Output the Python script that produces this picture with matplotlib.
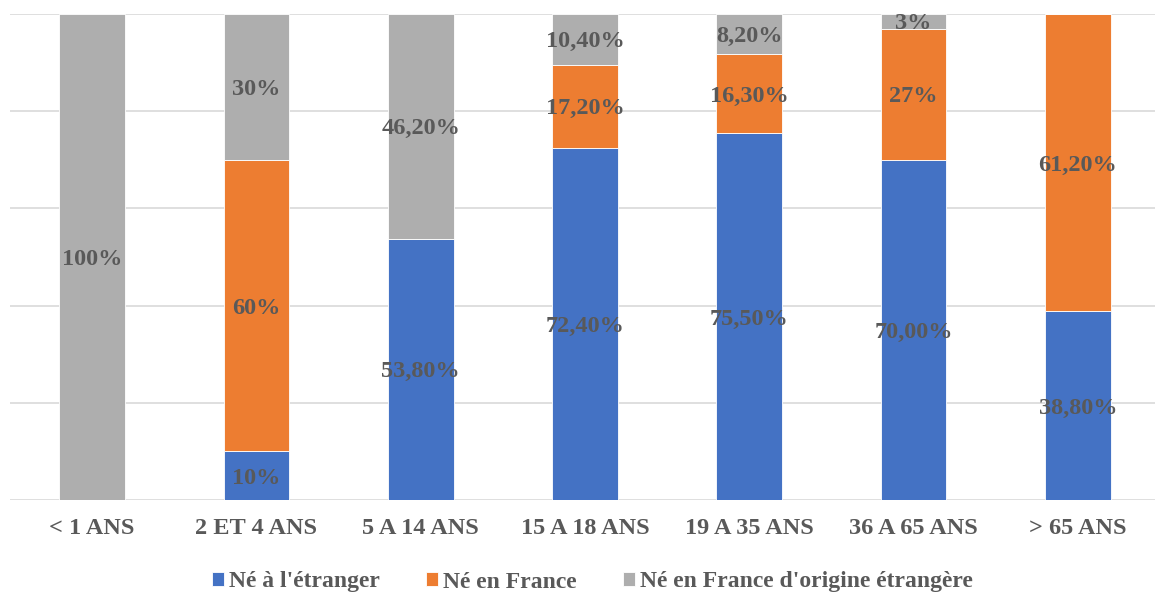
import matplotlib
matplotlib.use("Agg")
import matplotlib.pyplot as plt
import numpy as np

categories = ["< 1 ANS", "2 ET 4 ANS", "5 A 14 ANS", "15 A 18 ANS",
              "19 A 35 ANS", "36 A 65 ANS", "> 65 ANS"]
series_names = ["Né à l'étranger", "Né en France", "Né en France d'origine étrangère"]
ne_etranger = [0, 10, 53.8, 72.4, 75.5, 70.0, 38.8]
ne_france = [0, 60, 0, 17.2, 16.3, 27, 61.2]
ne_origine = [100, 30, 46.2, 10.4, 8.2, 3, 0]
value_labels = [
    ["", "10%", "53,80%", "72,40%", "75,50%", "70,00%", "38,80%"],
    ["", "60%", "", "17,20%", "16,30%", "27%", "61,20%"],
    ["100%", "30%", "46,20%", "10,40%", "8,20%", "3%", ""],
]
colors = ["#4472C4", "#ED7D31", "#AEAEAE"]
text_color = "#595959"
serif = ["Liberation Serif", "DejaVu Serif"]

plt.rcParams["font.family"] = serif
plt.rcParams["font.weight"] = "bold"

fig = plt.figure(figsize=(11.55, 5.93), dpi=100)
ax = fig.add_axes([10 / 1155, 93 / 593, 1 - 10 / 1155, 486 / 593])

x = np.arange(len(categories))
bottom = np.zeros(len(categories))
width = 0.4
for vals, labs, col, name in zip([ne_etranger, ne_france, ne_origine],
                                 value_labels, colors, series_names):
    vals = np.array(vals, dtype=float)
    ax.bar(x, vals, width, bottom=bottom, color=col, label=name,
           edgecolor="white", linewidth=0.6, zorder=3)
    for xi, v, b, lab in zip(x, vals, bottom, labs):
        if lab:
            ax.text(xi, b + v / 2, lab, ha="center", va="center_baseline",
                    fontsize=17.5, fontweight="bold", color=text_color,
                    family=serif, zorder=4)
    bottom += vals

ax.set_xlim(-0.5, 6.47)
ax.set_ylim(0, 100)
ax.set_yticks(np.arange(0, 101, 20))
ax.yaxis.grid(True, color="#D9D9D9", linewidth=1.2, zorder=0)
ax.set_yticklabels([])
ax.tick_params(axis="y", length=0)
ax.set_xticks(x)
ax.set_xticklabels(categories, fontsize=17.5, fontweight="bold",
                   color=text_color, family=serif)
ax.tick_params(axis="x", length=0, pad=13)
for s in ax.spines.values():
    s.set_visible(False)

leg = fig.legend(loc="center", bbox_to_anchor=(0.513, 11 / 593), ncol=3,
                 frameon=False, handlelength=0.5, handleheight=0.5,
                 handletextpad=0.22, columnspacing=1.95,
                 prop={"size": 17, "weight": "bold", "family": serif})
for t in leg.get_texts():
    t.set_color(text_color)

fig.savefig("out.png", dpi=100)
